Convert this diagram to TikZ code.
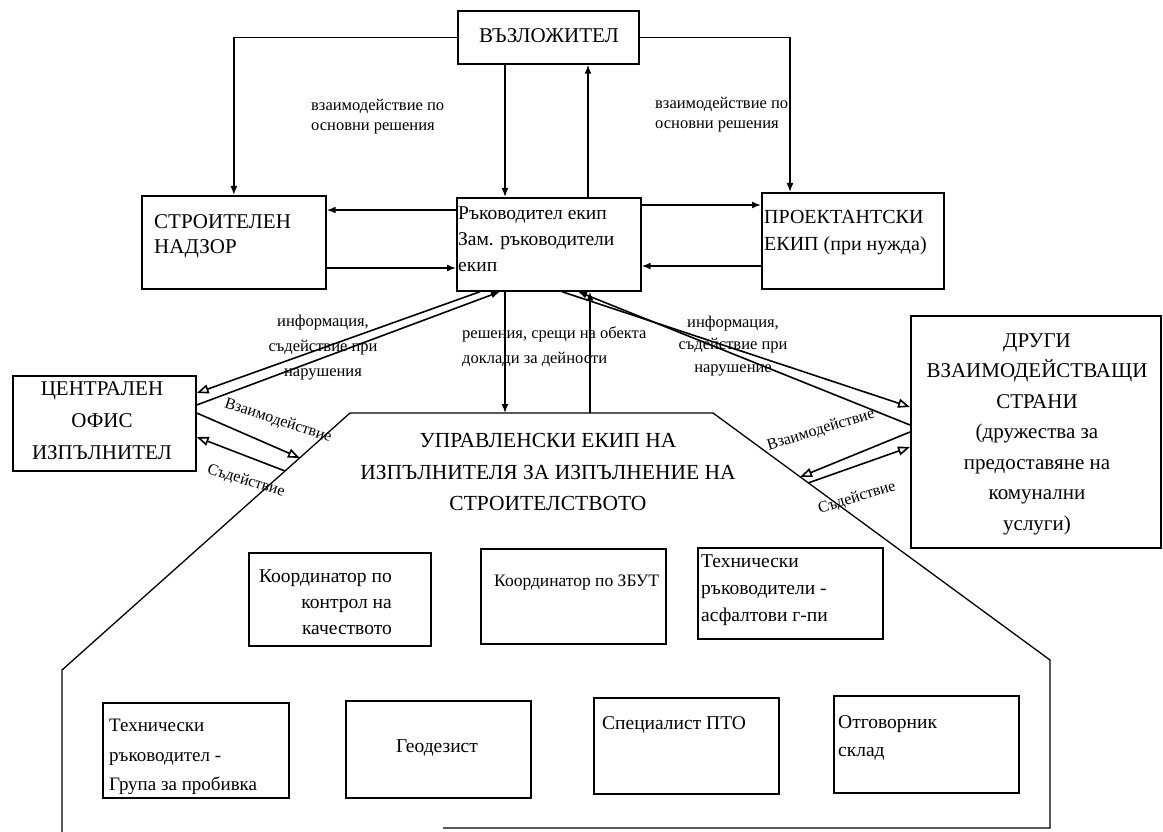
\documentclass[tikz,border=0pt]{standalone}
\usepackage{fontspec}
\setmainfont{Liberation Serif}
\usetikzlibrary{arrows.meta}
\newcommand{\sizept}[2]{\fontsize{#1}{#2}\selectfont}
\tikzset{
  box/.style={draw, line width=1.7pt, anchor=north west, inner sep=0pt},
  link/.style={line width=1.6pt},
  tip/.style={-{Latex[length=9pt,width=7pt]}},
  otip/.style={-{Triangle[open,length=12pt,width=9pt]}},
  txt/.style={inner sep=0pt, align=left},
}
\begin{document}
\begin{tikzpicture}[x=1pt,y=-1pt]
\useasboundingbox (0,0) rectangle (1163,832);
% boxes
\node[box, minimum width=181pt, minimum height=53pt] (client) at (457,10) {};
\node[box, minimum width=184pt, minimum height=93pt] (nadzor) at (141,195) {};
\node[box, minimum width=184pt, minimum height=93pt] (lead) at (456,197) {};
\node[box, minimum width=182pt, minimum height=96pt] (design) at (761,192) {};
\node[box, minimum width=183pt, minimum height=95pt] (office) at (12,375) {};
\node[box, minimum width=250pt, minimum height=232pt] (others) at (910,315) {};
\node[box, minimum width=182pt, minimum height=93pt] (qc) at (248,552) {};
\node[box, minimum width=185pt, minimum height=95pt] (zbut) at (480,548) {};
\node[box, minimum width=185pt, minimum height=91pt] (techasph) at (697,547) {};
\node[box, minimum width=186pt, minimum height=95pt] (techgrp) at (102,702) {};
\node[box, minimum width=185pt, minimum height=97pt] (geo) at (345,700) {};
\node[box, minimum width=185pt, minimum height=96pt] (pto) at (593,697) {};
\node[box, minimum width=185pt, minimum height=97pt] (store) at (833,695) {};
% texts in boxes
\node[txt, font=\sizept{21}{25}] (clienttxt) at (549,36) {ВЪЗЛОЖИТЕЛ};
\node[txt, anchor=west, font=\sizept{21}{25}] (nadzortxt) at (154,236) {СТРОИТЕЛЕН\\НАДЗОР};
\node[txt, anchor=west, font=\sizept{19.5}{26}] (leadtxt) at (458,239) {Ръководител екип\\Зам. ръководители\\екип};
\node[txt, anchor=west, font=\sizept{20}{27}] (designtxt) at (764,233) {ПРОЕКТАНТСКИ\\ЕКИП (при нужда)};
\node[txt, align=center, font=\sizept{21}{32}] (officetxt) at (102,421) {ЦЕНТРАЛЕН\\ОФИС\\ИЗПЪЛНИТЕЛ};
\node[txt, align=center, font=\sizept{21}{30.5}] (otherstxt) at (1037,434) {ДРУГИ\\ВЗАИМОДЕЙСТВАЩИ\\СТРАНИ\\(дружества за\\предоставяне на\\комунални\\услуги)};
\node[txt, anchor=east, align=right, font=\sizept{19.5}{26}] (qctxt) at (392,602) {Координатор по\\контрол на\\качеството};
\node[txt, anchor=west, font=\sizept{17.5}{22}] (zbuttxt) at (494,583) {Координатор по ЗБУТ};
\node[txt, anchor=west, font=\sizept{19.5}{27}] (techasphtxt) at (701,590) {Технически\\ръководители -\\асфалтови г-пи};
\node[txt, anchor=west, font=\sizept{19}{29.5}] (techgrptxt) at (109,757) {Технически\\ръководител -\\Група за пробивка};
\node[txt, font=\sizept{19.5}{26}] (geotxt) at (437,748) {Геодезист};
\node[txt, anchor=west, font=\sizept{19.5}{26}] (ptotxt) at (602,725) {Специалист ПТО};
\node[txt, anchor=west, font=\sizept{19.5}{28}] (storetxt) at (838,738) {Отговорник\\склад};
% management team outline
\coordinate (teambl) at (62,832);
\coordinate (teamwl) at (62,670);
\coordinate (teamnw) at (350,413);
\coordinate (teamne) at (713,413);
\coordinate (teamer) at (1050,660);
\coordinate (teamse) at (1050,828);
\coordinate (teambe) at (443,828);
\draw[line width=1.3pt] (teambl) -- (teamwl) -- (teamnw) -- (teamne) -- (teamer) -- (teamse) -- (teambe);
\node[txt, align=center, font=\sizept{21.5}{31.5}] (teamtxt) at (548,472) {УПРАВЛЕНСКИ ЕКИП НА\\ИЗПЪЛНИТЕЛЯ ЗА ИЗПЪЛНЕНИЕ НА\\СТРОИТЕЛСТВОТО};
\coordinate (teamin) at (505,413);
\coordinate (teamout) at (590,413);
\coordinate (teamofA) at (300,458);
\coordinate (teamofB) at (285,471);
\coordinate (teamotA) at (800,477);
\coordinate (teamotB) at (808,483);
% connectors
\draw[link, tip] (client.west) -| (nadzor.north);
\draw[link, tip] (client.east) -| ([xshift=29pt]design.north west);
\draw[link, tip] ([xshift=48pt]client.south west) -- ([xshift=49pt]lead.north west);
\draw[link, tip] ([xshift=132pt]lead.north west) -- ([xshift=131pt]client.south west);
\draw[link, tip] ([yshift=-13pt]lead.north west) -- ([yshift=-15pt]nadzor.north east);
\draw[link, tip] ([yshift=-73pt]nadzor.north east) -- ([yshift=-71pt]lead.north west);
\draw[link, tip] ([yshift=-8pt]lead.north east) -- ([yshift=-13pt]design.north west);
\draw[link, tip] ([yshift=-74pt]design.north west) -- ([yshift=-69pt]lead.north east);
\draw[link, tip] ([xshift=49pt]lead.south west) -- (teamin);
\draw[link, tip] (teamout) -- ([xshift=134pt]lead.south west);
\draw[link, tip] ([yshift=-30pt]office.north east) -- ([xshift=44pt]lead.south west);
\draw[link, otip] ([xshift=24pt]lead.south west) -- ([yshift=-18pt]office.north east);
\draw[link, otip] ([xshift=106pt]lead.south west) -- ([yshift=-92pt]others.north west);
\draw[link, tip] ([yshift=-110pt]others.north west) -- ([xshift=122pt]lead.south west);
\draw[link, otip] ([yshift=-38pt]office.north east) -- (teamofA);
\draw[link, otip] (teamofB) -- ([yshift=-62pt]office.north east);
\draw[link, otip] ([yshift=-117pt]others.north west) -- (teamotA);
\draw[link, otip] (teamotB) -- ([yshift=-132pt]others.north west);
% labels
\node[txt, anchor=west, font=\sizept{16.5}{20}] (agreeL) at (311,117) {взаимодействие по\\основни решения};
\node[txt, anchor=west, font=\sizept{16.5}{20}] (agreeR) at (655,115) {взаимодействие по\\основни решения};
\node[txt, align=center, font=\sizept{16.5}{25}] (infoL) at (323,348) {информация,\\съдействие при\\нарушения};
\node[txt, anchor=west, font=\sizept{16.5}{25}] (tasks) at (462,347) {решения, срещи на обекта\\доклади за дейности};
\node[txt, align=center, font=\sizept{16.5}{22.5}] (infoR) at (733,346) {информация,\\съдействие при\\нарушение};
\node[txt, rotate=-18, font=\sizept{16}{20}] (interL) at (278,421) {Взаимодействие};
\node[txt, rotate=-17, font=\sizept{16}{20}] (assistL) at (246,481) {Съдействие};
\node[txt, rotate=17, font=\sizept{16}{20}] (interR) at (821,430) {Взаимодействие};
\node[txt, rotate=17, font=\sizept{16}{20}] (assistR) at (857,498) {Съдействие};
\end{tikzpicture}
\end{document}
